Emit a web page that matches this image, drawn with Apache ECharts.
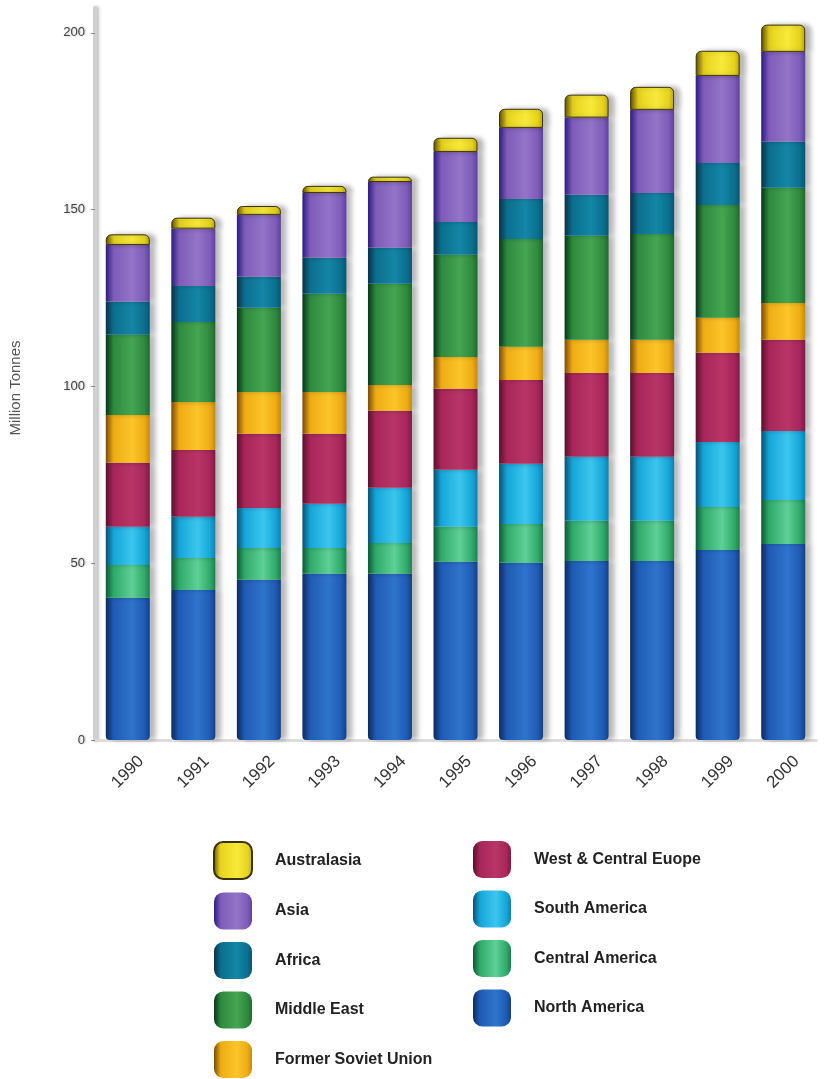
<!DOCTYPE html>
<html>
<head>
<meta charset="utf-8">
<script src="https://cdn.jsdelivr.net/npm/echarts@6/dist/echarts.min.js"></script>
<style>
html,body{margin:0;padding:0;background:#fff;}
#chart{width:824px;height:1079px;}
</style>
</head>
<body>
<div id="chart"></div>
<script>
var years = ['1990','1991','1992','1993','1994','1995','1996','1997','1998','1999','2000'];
var yTicks = [0, 50, 100, 150, 200];
var northAmerica      = [40.2, 42.4, 45.3, 47.0, 47.0, 50.4, 50.1, 50.6, 50.6, 53.7, 55.4];
var centralAmerica    = [9.3, 9.1, 9.0, 7.3, 8.7, 9.9, 11.0, 11.4, 11.4, 12.2, 12.5];
var southAmerica      = [10.8, 11.6, 11.3, 12.5, 15.6, 16.1, 17.0, 18.1, 18.1, 18.4, 19.5];
var westCentralEurope = [18.1, 18.9, 21.0, 19.8, 21.8, 22.9, 23.7, 23.7, 23.7, 25.2, 25.8];
var formerSovietUnion = [13.5, 13.6, 11.8, 11.8, 7.3, 9.0, 9.4, 9.4, 9.4, 9.9, 10.4];
var middleEast        = [22.7, 22.6, 23.8, 27.8, 28.6, 28.9, 30.5, 29.4, 29.9, 31.9, 32.6];
var africa            = [9.3, 10.2, 8.8, 10.2, 10.2, 9.3, 11.3, 11.6, 11.6, 11.9, 13.0];
var asia              = [16.1, 16.2, 17.5, 18.3, 18.6, 19.8, 20.1, 21.8, 23.5, 24.6, 25.4];
var australasia       = [3.0, 3.1, 2.5, 2.0, 1.5, 4.0, 5.4, 6.5, 6.5, 7.1, 7.7];

var seriesDefs = [
  {name: 'North America', data: northAmerica, c: ['#0d2a5e', '#1f5bb5', '#2f74cc', '#153f86']},
  {name: 'Central America', data: centralAmerica, c: ['#0b5a36', '#2faa6a', '#5fd096', '#1f7f50']},
  {name: 'South America', data: southAmerica, c: ['#0a4f72', '#15a6d8', '#3cc6ee', '#1180ad']},
  {name: 'West & Central Euope', data: westCentralEurope, c: ['#5a0f2c', '#a8265a', '#b93567', '#7e1a43']},
  {name: 'Former Soviet Union', data: formerSovietUnion, c: ['#7a4a05', '#eeac14', '#fcc52a', '#c48a0c']},
  {name: 'Middle East', data: middleEast, c: ['#06351a', '#2e8a3e', '#45a552', '#22682f']},
  {name: 'Africa', data: africa, c: ['#0a2f48', '#0b6f8e', '#1486a6', '#0a5570']},
  {name: 'Asia', data: asia, c: ['#2a1c80', '#7e5cb8', '#9474c8', '#5c42a0']},
  {name: 'Australasia', data: australasia, c: ['#5a4a05', '#e6d21e', '#f8ea3a', '#b8a412']}
];

function grad(c) {
  return new echarts.graphic.LinearGradient(0, 0, 1, 0, [
    {offset: 0, color: c[0]},
    {offset: 0.18, color: c[1]},
    {offset: 0.6, color: c[2]},
    {offset: 0.88, color: c[1]},
    {offset: 1, color: c[3]}
  ]);
}

var series = seriesDefs.map(function (s, i) {
  var last = i === seriesDefs.length - 1;
  return {
    name: s.name,
    type: 'bar',
    stack: 'total',
    barWidth: 44,
    data: s.data,
    itemStyle: {
      color: grad(s.c),
      borderRadius: last ? [5, 5, 0, 0] : (i === 0 ? [0, 0, 4, 4] : 0),
      borderColor: last ? '#3a3208' : undefined,
      borderWidth: last ? 1 : 0,
      shadowColor: 'rgba(0,0,0,0.28)',
      shadowBlur: 5,
      shadowOffsetX: 6,
      shadowOffsetY: 0
    }
  };
});

var leftNames = ['Australasia', 'Asia', 'Africa', 'Middle East', 'Former Soviet Union'];
var rightNames = ['West & Central Euope', 'South America', 'Central America', 'North America'];

function legendCfg(names, left) {
  return {
    data: names,
    orient: 'vertical',
    left: left,
    top: 841,
    padding: 0,
    itemWidth: 38,
    itemHeight: 37,
    itemGap: 12.5,
    icon: 'roundRect',
    selectedMode: false,
    textStyle: {
      fontFamily: 'Liberation Sans Narrow, Arial Narrow, sans-serif',
      fontWeight: 'bold',
      fontSize: 16,
      color: '#222',
      padding: [0, 0, 0, 18]
    }
  };
}

var chart = echarts.init(document.getElementById('chart'), null, {renderer: 'canvas'});
chart.setOption({
  animation: false,
  backgroundColor: '#ffffff',
  legend: [legendCfg(leftNames, 213), legendCfg(rightNames, 473)],
  grid: {left: 94, right: 8, top: 8, bottom: 339, containLabel: false},
  xAxis: {
    type: 'category',
    data: years,
    axisTick: {show: false},
    axisLine: {show: true, lineStyle: {color: '#dcdcdc', width: 3}},
    axisLabel: {
      rotate: 45,
      align: 'center',
      verticalAlign: 'middle',
      margin: 32,
      fontFamily: 'Liberation Sans Narrow, Arial Narrow, sans-serif',
      fontSize: 17,
      color: '#333'
    }
  },
  yAxis: {
    type: 'value',
    min: 0,
    max: 207,
    interval: 50,
    name: 'Million Tonnes',
    nameLocation: 'middle',
    nameGap: 72,
    nameRotate: 90,
    nameTextStyle: {
      fontFamily: 'Liberation Sans Narrow, Arial Narrow, sans-serif',
      fontSize: 15,
      color: '#555',
      padding: [0, 0, 0, -28]
    },
    splitLine: {show: false},
    axisLine: {show: true, lineStyle: {color: '#d0d0d0', width: 4, shadowColor: 'rgba(0,0,0,0.25)', shadowBlur: 3, shadowOffsetX: 2}},
    axisTick: {show: true, length: 4, lineStyle: {color: '#888'}},
    axisLabel: {
      showMaxLabel: false,
      margin: 10,
      fontFamily: 'Liberation Sans Narrow, Arial Narrow, sans-serif',
      fontSize: 13,
      color: '#444',
      textShadowColor: 'rgba(0,0,0,0.3)',
      textShadowBlur: 2,
      textShadowOffsetX: 1,
      formatter: function (v) { return yTicks.indexOf(v) >= 0 ? String(v) : ''; }
    }
  },
  series: series
});
</script>
</body>
</html>
